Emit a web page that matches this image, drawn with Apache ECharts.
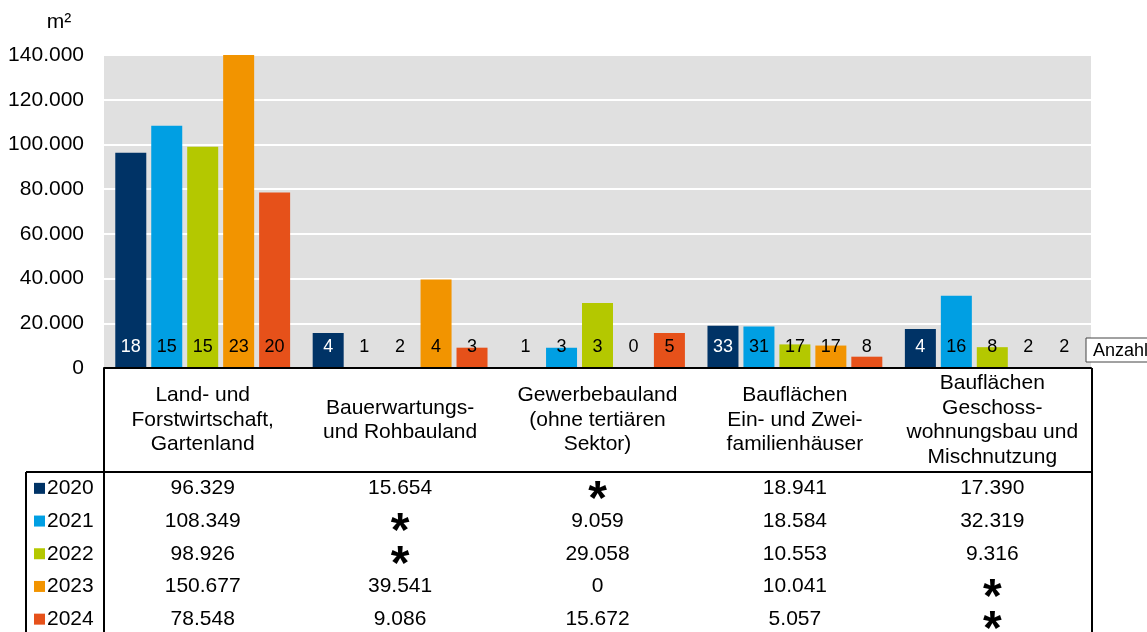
<!DOCTYPE html>
<html><head><meta charset="utf-8">
<script src="https://cdn.jsdelivr.net/npm/echarts@6/dist/echarts.min.js"></script>
<style>html,body{margin:0;padding:0;background:#fff}#c{width:1147px;height:632px}</style>
</head><body><div id="c"></div><script>
// ---- data ----
const categories = [
  'Land- und\nForstwirtschaft,\nGartenland',
  'Bauerwartungs-\nund Rohbauland',
  'Gewerbebauland\n(ohne tertiären\nSektor)',
  'Bauflächen\nEin- und Zwei-\nfamilienhäuser',
  'Bauflächen\nGeschoss-\nwohnungsbau und\nMischnutzung'
];
const years = ['2020', '2021', '2022', '2023', '2024'];
const colors = ['#003366', '#009FE3', '#B4C800', '#F29400', '#E6511A'];
// area in m² (null = value suppressed, shown as *)
const area2020 = [96329, 15654, null, 18941, 17390];
const area2021 = [108349, null, 9059, 18584, 32319];
const area2022 = [98926, null, 29058, 10553, 9316];
const area2023 = [150677, 39541, 0, 10041, null];
const area2024 = [78548, 9086, 15672, 5057, null];
// number of cases (Anzahl)
const count2020 = [18, 4, 1, 33, 4];
const count2021 = [15, 1, 3, 31, 16];
const count2022 = [15, 2, 3, 17, 8];
const count2023 = [23, 4, 0, 17, 2];
const count2024 = [20, 3, 5, 8, 2];
const yTicks = [0, 20000, 40000, 60000, 80000, 100000, 120000, 140000];

const areas = [area2020, area2021, area2022, area2023, area2024];
const counts = [count2020, count2021, count2022, count2023, count2024];

function fmt(v) {
  return String(v).replace(/\B(?=(\d{3})+(?!\d))/g, '.');
}

const FONT = 'Liberation Sans, Arial, sans-serif';
const chart = echarts.init(document.getElementById('c'), null, {renderer: 'canvas'});

const series = years.map((y, si) => ({
  name: y,
  type: 'bar',
  data: areas[si].map(v => ({
    value: v == null ? 0 : v,
    label: {color: (si === 0 && v) ? '#ffffff' : '#000000'}
  })),
  barWidth: 31,
  barGap: '16%',
  clip: true,
  itemStyle: {color: colors[si]},
  label: {
    show: true,
    position: 'insideBottom',
    distance: 12,
    fontFamily: FONT,
    fontSize: 18,
    formatter: p => String(counts[si][p.dataIndex])
  },
  silent: true,
  animation: false
}));

chart.setOption({
  animation: false,
  textStyle: {fontFamily: FONT},
  grid: {
    left: 104, right: 56, top: 55, bottom: 264,
    containLabel: false, outerBoundsMode: 'none',
    show: true, backgroundColor: '#E0E0E0', borderWidth: 0
  },
  xAxis: {
    type: 'category',
    data: categories,
    axisLine: {show: true, lineStyle: {color: '#000', width: 2}},
    axisTick: {show: false},
    axisLabel: {
      interval: 0, margin: 52, verticalAlign: 'middle',
      fontFamily: FONT, fontSize: 21, lineHeight: 24.5, color: '#000'
    },
    z: 5
  },
  yAxis: {
    type: 'value',
    min: yTicks[0], max: yTicks[yTicks.length - 1], interval: yTicks[1] - yTicks[0],
    axisLine: {show: false},
    axisTick: {show: false},
    axisLabel: {fontFamily: FONT, fontSize: 21, color: '#000', margin: 20, formatter: v => fmt(v)},
    splitLine: {show: true, lineStyle: {color: '#ffffff', width: 2}}
  },
  series: series
});

// ---- table and extras drawn as graphics aligned with the axis ----
const gLeft = 104, gRight = 1147 - 56, axisY = 632 - 264;
const headBottom = 472, rowH = 32.7, tableLeft = 26, bottomY = 640;
const line = (x1, y1, x2, y2) => ({
  type: 'line', shape: {x1, y1, x2, y2}, style: {stroke: '#000', lineWidth: 2}, z: 10, silent: true
});
const g = [];
g.push(line(gLeft, axisY, gLeft, bottomY));
g.push(line(gRight + 1, axisY, gRight + 1, bottomY));
g.push(line(tableLeft, headBottom, gRight + 1, headBottom));
g.push(line(tableLeft, headBottom, tableLeft, bottomY));
// unit label
g.push({type: 'text', x: 59, y: 22, style: {text: 'm²', font: '21px ' + FONT, fill: '#000', align: 'center', verticalAlign: 'middle'}, silent: true});
// Anzahl box
g.push({type: 'rect', shape: {x: 1086, y: 338, width: 80, height: 24}, style: {fill: '#fff', stroke: '#444', lineWidth: 1}, z: 10, silent: true});
g.push({type: 'text', x: 1093, y: 351, style: {text: 'Anzahl', font: '18px ' + FONT, fill: '#000', align: 'left', verticalAlign: 'middle'}, z: 11, silent: true});

years.forEach((y, ri) => {
  const cy = headBottom + rowH * (ri + 0.5);
  g.push({type: 'rect', shape: {x: 34, y: cy - 5.5, width: 11, height: 11}, style: {fill: colors[ri]}, silent: true});
  g.push({type: 'text', x: 47, y: cy, style: {text: y, font: '21px ' + FONT, fill: '#000', align: 'left', verticalAlign: 'middle'}, silent: true});
  categories.forEach((c, ci) => {
    const cx = chart.convertToPixel({xAxisIndex: 0}, ci);
    const v = areas[ri][ci];
    if (v == null) {
      g.push({type: 'text', x: cx, y: cy + 12, style: {text: '*', font: 'bold 48px ' + FONT, fill: '#000', align: 'center', verticalAlign: 'middle'}, silent: true});
    } else {
      g.push({type: 'text', x: cx, y: cy, style: {text: fmt(v), font: '21px ' + FONT, fill: '#000', align: 'center', verticalAlign: 'middle'}, silent: true});
    }
  });
});
chart.setOption({graphic: {elements: g}});
</script></body></html>
